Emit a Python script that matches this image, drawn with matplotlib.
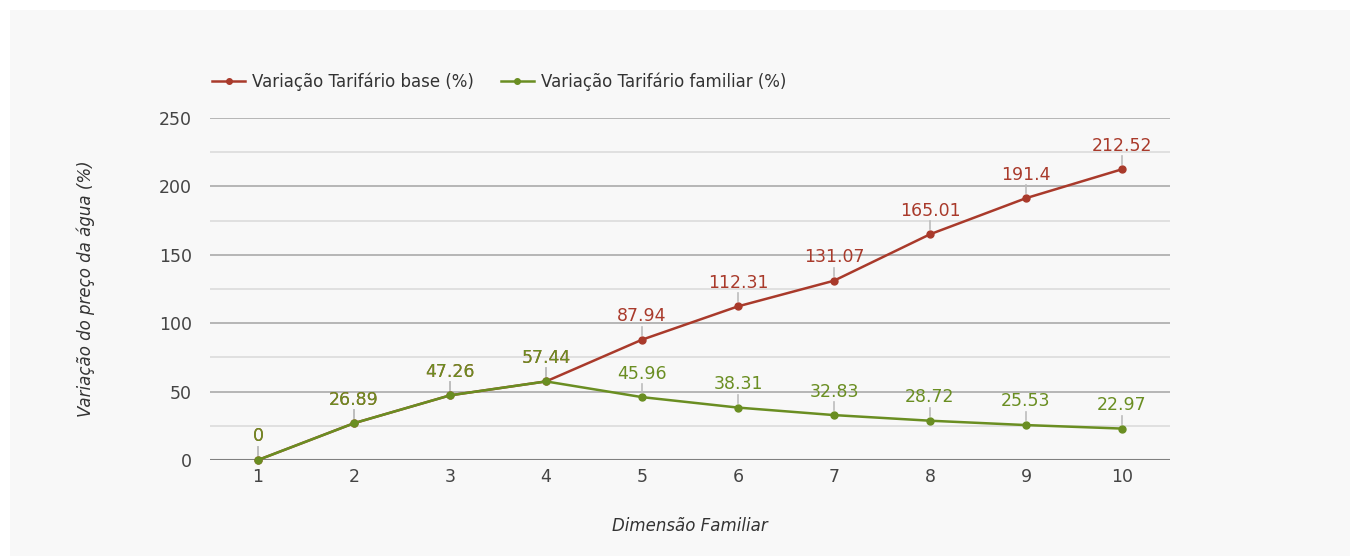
import matplotlib.pyplot as plt
from matplotlib.patches import Rectangle

plt.rcParams['font.family'] = ['DejaVu Sans']

# data
dimensao = [1, 2, 3, 4, 5, 6, 7, 8, 9, 10]
tarifario_base = [0, 26.89, 47.26, 57.44, 87.94, 112.31, 131.07, 165.01, 191.4, 212.52]
tarifario_familiar = [0, 26.89, 47.26, 57.44, 45.96, 38.31, 32.83, 28.72, 25.53, 22.97]
labels_base = ['0', '26.89', '47.26', '57.44', '87.94', '112.31', '131.07', '165.01', '191.4', '212.52']
labels_familiar = ['0', '26.89', '47.26', '57.44', '45.96', '38.31', '32.83', '28.72', '25.53', '22.97']

red = '#a93a2b'
green = '#6a8e22'

fig = plt.figure(figsize=(13.59, 5.56), dpi=100, facecolor='white')
fig.patches.append(Rectangle((10 / 1359, 0), 1340 / 1359, 1 - 10 / 556,
                             transform=fig.transFigure, facecolor='#f8f8f8',
                             edgecolor='none', zorder=-10))

ax = fig.add_axes([210 / 1359, 1 - 460 / 556, 960 / 1359, (460 - 118) / 556])
ax.set_facecolor('none')
ax.set_xlim(0.5, 10.5)
ax.set_ylim(0, 250)

# grid
for v in range(25, 250, 50):
    ax.axhline(v, color='#dcdcdc', lw=1.2, zorder=0)
for v in range(50, 251, 50):
    ax.axhline(v, color='#ababab', lw=1.2, zorder=0)
ax.axhline(0, color='#808080', lw=1.5, zorder=1)

for s in ax.spines.values():
    s.set_visible(False)
ax.tick_params(axis='y', length=0, labelsize=12.5, colors='#444444', pad=13)
ax.tick_params(axis='x', length=0, labelsize=12.5, colors='#444444', pad=6)
ax.set_xticks(dimensao)
ax.set_yticks(range(0, 251, 50))


def draw(values, texts, color, name):
    ax.plot(dimensao, values, color=color, lw=1.8, marker='o', ms=5,
            label=name, zorder=3, clip_on=False)
    inv = ax.transData.inverted()
    for x, y, t in zip(dimensao, values, texts):
        ax.annotate(t, xy=(x, y), xytext=(0, 10.5), textcoords='offset points',
                    ha='center', va='bottom', fontsize=12.5, color=color,
                    zorder=4, annotation_clip=False)
        px, py = ax.transData.transform((x, y))
        y0 = inv.transform((px, py + 5))[1]
        y1 = inv.transform((px, py + 13))[1]
        ax.plot([x, x], [y0, y1], color='#bdbdbd', lw=1.2, zorder=2, clip_on=False)


draw(tarifario_base, labels_base, red, 'Variação Tarifário base (%)')
draw(tarifario_familiar, labels_familiar, green, 'Variação Tarifário familiar (%)')

ax.set_xlabel('Dimensão Familiar', fontsize=12, style='italic', color='#333333',
              labelpad=22)
ax.set_ylabel('Variação do preço da água (%)', fontsize=12, style='italic',
              color='#333333', labelpad=46)

fig.legend(loc='center left', bbox_to_anchor=(197 / 1359, 1 - 82 / 556),
           ncol=2, frameon=False, fontsize=12, handlelength=2.0, markerscale=0.8,
           columnspacing=1.6, handletextpad=0.4, labelcolor='#333333')

fig.savefig('out.png', dpi=100, facecolor=fig.get_facecolor())
